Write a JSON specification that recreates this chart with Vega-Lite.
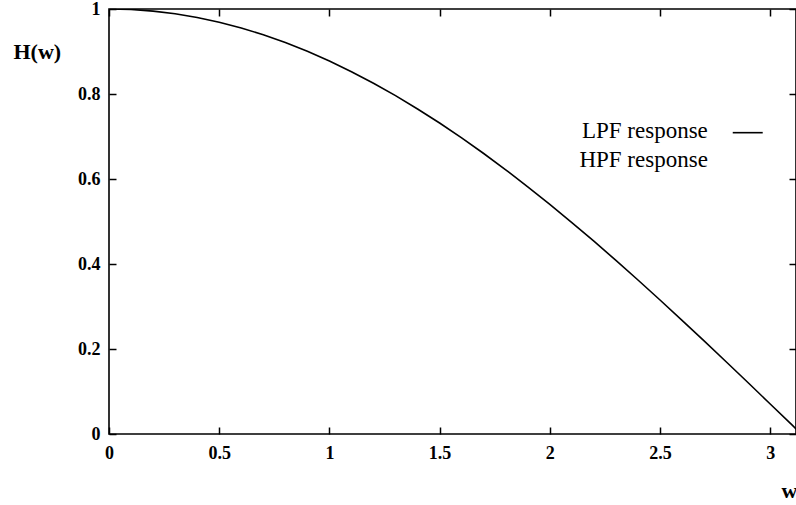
{
  "$schema": "https://vega.github.io/schema/vega-lite/v6.json",
  "width": 687,
  "height": 425,
  "autosize": {"type": "none"},
  "padding": {"left": 109, "top": 9, "right": 0, "bottom": 71},
  "background": "white",
  "config": {
    "view": {"stroke": "black", "strokeWidth": 1.6},
    "axis": {
      "grid": false,
      "domain": false,
      "ticks": true,
      "tickColor": "black",
      "tickSize": -7,
      "tickWidth": 1.5,
      "labelFont": "Liberation Serif",
      "labelFontWeight": "bold",
      "labelFontSize": 18,
      "labelColor": "black",
      "titleFont": "Liberation Serif",
      "titleFontWeight": "bold",
      "titleFontSize": 22,
      "titleColor": "black"
    }
  },
  "datasets": {
    "curve": [
      {"w": 0.0, "h": 1.0},
      {"w": 0.1, "h": 0.9988},
      {"w": 0.2, "h": 0.995},
      {"w": 0.3, "h": 0.9888},
      {"w": 0.4, "h": 0.9801},
      {"w": 0.5, "h": 0.9689},
      {"w": 0.6, "h": 0.9553},
      {"w": 0.7, "h": 0.9394},
      {"w": 0.8, "h": 0.9211},
      {"w": 0.9, "h": 0.9005},
      {"w": 1.0, "h": 0.8776},
      {"w": 1.1, "h": 0.8525},
      {"w": 1.2, "h": 0.8253},
      {"w": 1.3, "h": 0.7961},
      {"w": 1.4, "h": 0.7648},
      {"w": 1.5, "h": 0.7317},
      {"w": 1.6, "h": 0.6967},
      {"w": 1.7, "h": 0.66},
      {"w": 1.8, "h": 0.6216},
      {"w": 1.9, "h": 0.5817},
      {"w": 2.0, "h": 0.5403},
      {"w": 2.1, "h": 0.4976},
      {"w": 2.2, "h": 0.4536},
      {"w": 2.3, "h": 0.4085},
      {"w": 2.4, "h": 0.3624},
      {"w": 2.5, "h": 0.3153},
      {"w": 2.6, "h": 0.2675},
      {"w": 2.7, "h": 0.219},
      {"w": 2.8, "h": 0.17},
      {"w": 2.9, "h": 0.1205},
      {"w": 3.0, "h": 0.0707},
      {"w": 3.1, "h": 0.0208},
      {"w": 3.14, "h": 0.0008}
    ],
    "legend": [
      {"lx": 2.717, "ly": 0.712, "label": "LPF response"},
      {"lx": 2.717, "ly": 0.645, "label": "HPF response"}
    ],
    "sample": [
      {"x1": 2.83, "x2": 2.966, "y": 0.709}
    ]
  },
  "layer": [
    {
      "data": {"name": "curve"},
      "mark": {"type": "line", "color": "black", "strokeWidth": 1.6, "clip": true},
      "encoding": {
        "x": {
          "field": "w", "type": "quantitative",
          "scale": {"domain": [0, 3.117], "nice": false, "zero": false},
          "axis": {
            "orient": "bottom",
            "tickCount": 7,
            "format": "~g",
            "labelPadding": 17,
            "labelFlush": false,
            "labelOverlap": false,
            "title": "w",
            "titleAngle": 0,
            "titleX": 688,
            "titleY": 56,
            "titleAlign": "right",
            "titleBaseline": "middle"
          }
        },
        "y": {
          "field": "h", "type": "quantitative",
          "scale": {"domain": [0, 1], "nice": false},
          "axis": {
            "orient": "left",
            "tickCount": 5,
            "format": "~g",
            "labelPadding": 16,
            "labelFlush": false,
            "labelOverlap": false,
            "title": "H(w)",
            "titleAngle": 0,
            "titleX": -96,
            "titleY": 42,
            "titleAlign": "left",
            "titleBaseline": "middle"
          }
        }
      }
    },
    {
      "data": {"name": "legend"},
      "mark": {"type": "text", "align": "right", "baseline": "middle", "font": "Liberation Serif", "fontSize": 23, "color": "black"},
      "encoding": {
        "x": {
          "field": "lx", "type": "quantitative",
          "axis": {"orient": "top", "tickCount": 7, "labels": false, "title": null}
        },
        "y": {
          "field": "ly", "type": "quantitative",
          "axis": {"orient": "right", "tickCount": 5, "labels": false, "title": null}
        },
        "text": {"field": "label"}
      }
    },
    {
      "data": {"name": "sample"},
      "mark": {"type": "rule", "color": "black", "strokeWidth": 1.6},
      "encoding": {
        "x": {"field": "x1", "type": "quantitative", "axis": null},
        "x2": {"field": "x2"},
        "y": {"field": "y", "type": "quantitative", "axis": null}
      }
    }
  ],
  "resolve": {"axis": {"x": "independent", "y": "independent"}}
}
